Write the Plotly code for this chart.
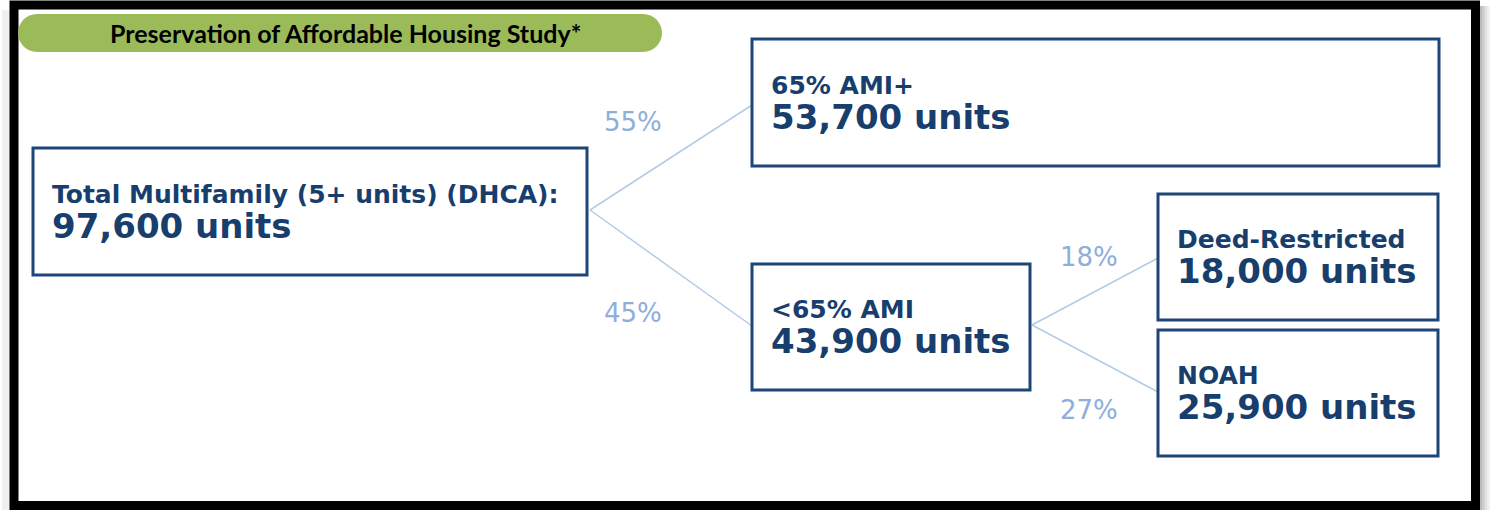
import plotly.graph_objects as go

# ---- data ----
title_text = "Preservation of Affordable Housing Study*"
node_labels = ["Total Multifamily (5+ units) (DHCA):", "65% AMI+", "<65% AMI", "Deed-Restricted", "NOAH"]
node_units = [97600, 53700, 43900, 18000, 25900]
edge_pcts = ["55%", "45%", "18%", "27%"]

# ---- layout geometry (pixels) ----
W, H = 1491, 510
NAVY = "#1c4677"
TEXT_NAVY = "#173e6c"
LINE_BLUE = "#b3cbe6"
PCT_BLUE = "#8eaedb"
GREEN = "#9bbb59"
FONT = "DejaVu Sans"

boxes = [  # x0, y0, x1, y1
    (33, 148, 587, 275),
    (752, 39, 1439, 166),
    (752, 264, 1030, 390),
    (1158, 194, 1438, 320),
    (1158, 330, 1438, 456),
]
edges = [((590, 210), (752, 105)), ((590, 210), (752, 326)),
         ((1032, 325), (1158, 258)), ((1032, 325), (1158, 392))]
pct_pos = [(633, 122), (633, 313), (1089, 257), (1089, 410)]

fig = go.Figure()
shapes = []
annotations = []

# shadow
for i, (c, op) in enumerate([("#777", 0.5), ("#999", 0.45), ("#bbb", 0.4), ("#ddd", 0.4)]):
    shapes.append(dict(type="rect", xref="x", yref="y", x0=1480 + i * 2.5, x1=1482.5 + i * 2.5,
                       y0=6, y1=510, fillcolor=c, opacity=op, line=dict(width=0), layer="below"))
shapes.append(dict(type="rect", xref="x", yref="y", x0=2, x1=10, y0=10, y1=510,
                   fillcolor="#f0f0f0", line=dict(width=0), layer="below"))

# frame
shapes.append(dict(type="rect", xref="x", yref="y", x0=14, x1=1475.5, y0=5, y1=505.5,
                   line=dict(color="#000000", width=9), fillcolor="rgba(0,0,0,0)"))

# green pill
x0p, x1p, y0p, y1p, r = 18, 662, 14, 52, 19
k = 0.5523 * r
pill = (f"M {x0p + r},{y0p} L {x1p - r},{y0p} "
        f"C {x1p - r + k},{y0p} {x1p},{y0p + r - k} {x1p},{y0p + r} "
        f"C {x1p},{y1p - r + k} {x1p - r + k},{y1p} {x1p - r},{y1p} "
        f"L {x0p + r},{y1p} "
        f"C {x0p + r - k},{y1p} {x0p},{y1p - r + k} {x0p},{y1p - r} "
        f"C {x0p},{y0p + r - k} {x0p + r - k},{y0p} {x0p + r},{y0p} Z")
shapes.append(dict(type="path", xref="x", yref="y", path=pill, fillcolor=GREEN, line=dict(width=0)))
annotations.append(dict(x=345, y=32.5, xref="x", yref="y", text="<b>" + title_text + "</b>",
                        showarrow=False, xanchor="center", yanchor="middle",
                        font=dict(family="Lato", size=25, color="#000000")))

# edges
for (a, b) in edges:
    shapes.append(dict(type="line", xref="x", yref="y", x0=a[0], y0=a[1], x1=b[0], y1=b[1],
                       line=dict(color=LINE_BLUE, width=1.5)))

# boxes
for (bx0, by0, bx1, by1) in boxes:
    shapes.append(dict(type="rect", xref="x", yref="y", x0=bx0, y0=by0, x1=bx1, y1=by1,
                       line=dict(color=NAVY, width=3), fillcolor="rgba(0,0,0,0)"))

# node text (label + units in one text block)
for i, (lab, val) in enumerate(zip(node_labels, node_units)):
    bx0, by0, bx1, by1 = boxes[i]
    tx = bx0 + 17
    ty = (by0 + by1) / 2 + 1
    txt = (f"<span style='font-size:25px'><b>{lab.replace('<', '&lt;')}</b></span><br>"
           f"<span style='font-size:34px'><b>{val:,} units</b></span>")
    annotations.append(dict(x=tx, y=ty, xref="x", yref="y", text=txt,
                            showarrow=False, xanchor="left", yanchor="middle", align="left",
                            font=dict(family=FONT, size=26.8, color=TEXT_NAVY)))

# percentages
for p, (px, py) in zip(edge_pcts, pct_pos):
    annotations.append(dict(x=px, y=py, xref="x", yref="y", text=p, showarrow=False,
                            xanchor="center", yanchor="middle",
                            font=dict(family=FONT, size=26, color=PCT_BLUE)))

fig.update_layout(
    width=W, height=H, margin=dict(l=0, r=0, t=0, b=0),
    paper_bgcolor="#ffffff", plot_bgcolor="#ffffff",
    xaxis=dict(range=[0, W], visible=False, fixedrange=True),
    yaxis=dict(range=[H, 0], visible=False, fixedrange=True),
    shapes=shapes, annotations=annotations, showlegend=False,
)
fig.write_html("out.html", config={"displayModeBar": False},
               post_script="document.body.style.margin='0';document.body.style.overflow='hidden';")
